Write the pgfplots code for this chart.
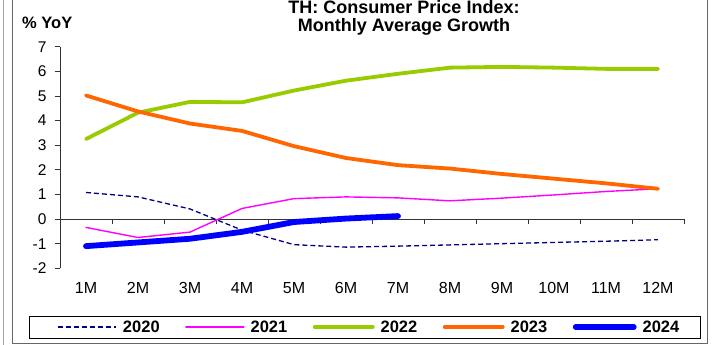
\documentclass[border=0pt]{standalone}
\usepackage{pgfplots}
\pgfplotsset{compat=1.18}
\usepackage{fontspec}
\setmainfont{Liberation Sans}
\definecolor{c20}{HTML}{000080}
\definecolor{c21}{HTML}{FF00FF}
\definecolor{c22}{HTML}{99CC00}
\definecolor{c23}{HTML}{FF6600}
\definecolor{c24}{HTML}{0000FF}
\begin{document}
\begin{tikzpicture}[x=1pt,y=1pt]
\useasboundingbox (0,0) rectangle (712,345);
\draw[gray!70,line width=0.8pt] (3,0) -- (3,345);
\draw[gray!80!black,line width=0.8pt] (12,345) -- (12,2) -- (707,2) -- (707,345);
\node[anchor=south,inner sep=0pt,align=center,font=\bfseries\fontsize{18}{18.5}\selectfont] at (404,309) {TH: Consumer Price Index:\\Monthly Average Growth};
\node[anchor=base west,inner sep=0pt,font=\bfseries\fontsize{16.5}{16.5}\selectfont] at (22,316.5) {\% YoY};
\draw[black,line width=0.8pt] (29,7) rectangle (700,29);
\begin{axis}[
  at={(60pt,76.7pt)}, anchor=south west,
  scale only axis, width=624pt, height=221.6pt,
  xmin=0.5, xmax=12.5, ymin=-2, ymax=7,
  axis y line=left, axis x line=middle,
  axis line style={-, black!80, line width=0.7pt},
  hide obscured x ticks=false, hide obscured y ticks=false,
  tick align=outside, major tick length=5pt,
  tick style={black!80, line width=0.7pt},
  ytick={-2,...,7},
  yticklabel style={font=\fontsize{15.5}{15.5}\selectfont, xshift=-5pt},
  /pgf/number format/assume math mode=true,
  xtick={1,...,12},
  xticklabels={1M,2M,3M,4M,5M,6M,7M,8M,9M,10M,11M,12M},
  x tick style={draw=none},
  xticklabel style={font=\fontsize{16}{16}\selectfont, anchor=north, yshift=-55pt},
  extra x ticks={1.5,2.5,...,12.5},
  extra x tick labels={},
  extra x tick style={x tick style={draw=black!80, line width=0.7pt}},
  legend columns=5,
  legend style={at={(axis description cs:0.4944,-0.2649)}, anchor=center, draw=none, fill=none,
    font=\bfseries\fontsize{16.5}{16.5}\selectfont,
    nodes={inner sep=0pt},
    /tikz/every odd column/.append style={column sep=6pt},
    /tikz/every even column/.append style={column sep=25.5pt}},
  legend image code/.code={\draw[#1] (0pt,0pt) -- (58pt,0pt);},
  every axis plot/.append style={line cap=round, line join=round},
  clip=false,
]
\addplot[c20, line width=1.3pt, dash pattern=on 5pt off 3pt, line cap=butt] coordinates {
(1,1.08) (2,0.90) (3,0.41) (4,-0.45) (5,-1.04) (6,-1.14) (7,-1.10) (8,-1.05) (9,-1.00) (10,-0.95) (11,-0.90) (12,-0.84)};
\addlegendentry{2020}
\addplot[c21, line width=1.4pt] coordinates {
(1,-0.34) (2,-0.75) (3,-0.53) (4,0.43) (5,0.83) (6,0.90) (7,0.86) (8,0.74) (9,0.85) (10,0.98) (11,1.12) (12,1.23)};
\addlegendentry{2021}
\addplot[c22, line width=3.8pt] coordinates {
(1,3.25) (2,4.32) (3,4.76) (4,4.74) (5,5.22) (6,5.62) (7,5.90) (8,6.15) (9,6.18) (10,6.15) (11,6.10) (12,6.10)};
\addlegendentry{2022}
\addplot[c23, line width=3.8pt] coordinates {
(1,5.02) (2,4.37) (3,3.88) (4,3.58) (5,2.96) (6,2.48) (7,2.19) (8,2.05) (9,1.83) (10,1.64) (11,1.45) (12,1.23)};
\addlegendentry{2023}
\addplot[c24, line width=5.8pt] coordinates {
(1,-1.10) (2,-0.95) (3,-0.80) (4,-0.52) (5,-0.12) (6,0.02) (7,0.12)};
\addlegendentry{2024}
\end{axis}
\end{tikzpicture}
\end{document}
